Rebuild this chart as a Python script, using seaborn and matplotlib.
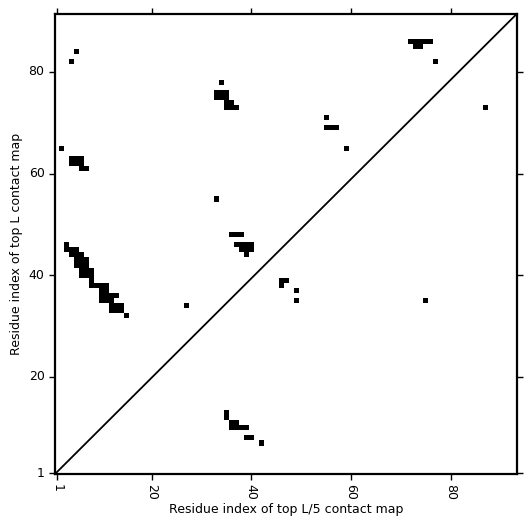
import numpy as np
import matplotlib
matplotlib.use("Agg")
import matplotlib.pyplot as plt
from matplotlib.colors import ListedColormap
import seaborn as sns

# ---- data: contacts (residue x, residue y) ----
L = 93
contact_x = [5, 4, 2,
             4, 5, 6, 4, 5, 6, 6, 7,
             3, 3, 4, 5, 4, 5, 6, 5, 6, 7, 5, 6, 7, 6, 7, 8, 6, 7, 8, 8,
             8, 9, 10, 11, 10, 11, 10, 11, 12, 13, 10, 11, 12,
             12, 13, 14, 12, 13, 14, 15,
             34, 33, 34, 35, 33, 34, 35, 35, 36, 35, 36, 37,
             33, 36, 37, 38, 37, 38, 39, 40, 38, 39, 40, 39,
             46, 47, 46, 49, 49, 27, 75, 87, 55, 55, 56, 57, 59,
             72, 73, 74, 75, 76, 73, 74, 77,
             35, 35, 36, 37, 36, 37, 38, 39, 39, 40, 42]
contact_y = [84, 82, 65,
             63, 63, 63, 62, 62, 62, 61, 61,
             46, 45, 45, 45, 44, 44, 44, 43, 43, 43, 42, 42, 42, 41, 41, 41, 40, 40, 40, 39,
             38, 38, 38, 38, 37, 37, 36, 36, 36, 36, 35, 35, 35,
             34, 34, 34, 33, 33, 33, 32,
             78, 76, 76, 76, 75, 75, 75, 74, 74, 73, 73, 73,
             55, 48, 48, 48, 46, 46, 46, 46, 45, 45, 45, 44,
             39, 39, 38, 37, 35, 34, 35, 73, 71, 69, 69, 69, 65,
             86, 86, 86, 86, 86, 85, 85, 82,
             13, 12, 11, 11, 10, 10, 10, 10, 8, 8, 7]
tick_values = [1, 20, 40, 60, 80]
x_label = "Residue index of top L/5 contact map"
y_label = "Residue index of top L contact map"

# build contact matrix (rows = y residue, cols = x residue)
M = np.zeros((L, L))
for cx, cy in zip(contact_x, contact_y):
    M[cy - 1, cx - 1] = 1

fig = plt.figure(figsize=(5.31, 5.31), dpi=100)
ax = fig.add_axes([55 / 531, 57 / 531, (516.7 - 55) / 531, (474 - 14) / 531])

sns.heatmap(M, ax=ax, mask=(M == 0), cmap=ListedColormap(["black"]),
            vmin=0, vmax=1, cbar=False, linewidths=0, square=False)

# residue r occupies heatmap cell [r-1, r]
ax.set_xlim(0.1, 92.75)
ax.set_ylim(0.4, 90.9)
ax.plot([0, 1], [0, 1], transform=ax.transAxes, color="black", lw=1.3)

ax.set_xticks([t - 0.5 for t in tick_values])
ax.set_xticklabels([str(t) for t in tick_values], rotation=-90, fontsize=9)
ax.set_yticks([t - 0.5 for t in tick_values])
ax.set_yticklabels([str(t) for t in tick_values], rotation=0, fontsize=9)
ax.tick_params(direction="out", length=4.5, width=1, top=True, right=True,
               labeltop=False, labelright=False, pad=3)
for s in ax.spines.values():
    s.set_visible(True)
    s.set_linewidth(1.6)
    s.set_color("black")
ax.set_xlabel(x_label, fontsize=9, labelpad=2)
ax.set_ylabel(y_label, fontsize=9, labelpad=4)

fig.savefig("out.png", dpi=100)
